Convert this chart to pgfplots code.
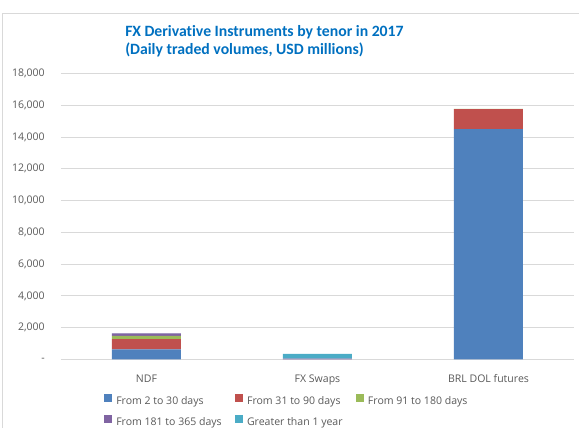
\documentclass[border=0pt]{standalone}
\usepackage{pgfplots}
\pgfplotsset{compat=1.18}
\usepackage{fontspec}
\setmainfont{Carlito}[Ligatures=NoCommon]
\newfontfamily\labelfont{Open Sans}

\definecolor{sBlue}{HTML}{4F81BD}
\definecolor{sRed}{HTML}{C0504D}
\definecolor{sGreen}{HTML}{9BBB59}
\definecolor{sPurple}{HTML}{8064A2}
\definecolor{sCyan}{HTML}{4BACC6}
\definecolor{titleBlue}{HTML}{0070C0}
\definecolor{gridGray}{HTML}{D9D9D9}
\definecolor{labelGray}{HTML}{595959}

% Daily traded volumes by tenor (USD millions)
% x: 0 = NDF, 1 = FX Swaps, 2 = BRL DOL futures
\pgfplotstableread{
x  d2to30  d31to90  d91to180  d181to365  gt1y
0  630     650      210       150        10
1  0       0        0         60         290
2  14500   1250     30        0          0
}\tenordata

\begin{document}
\begin{tikzpicture}
\useasboundingbox (-45.75pt,-51.375pt) rectangle (388.5pt,269.625pt);
% chart area frame
\begin{scope}
\clip (-45.75pt,-51.375pt) rectangle (388.5pt,269.625pt);
\draw[gridGray, line width=0.75pt] (-43.875pt,-80pt) -- (-43.875pt,259.5pt) -- (420pt,259.5pt);
\end{scope}

\begin{axis}[
  at={(0pt,0pt)}, anchor=south west,
  scale only axis,
  width=384.75pt, height=214.5pt,
  ybar stacked,
  bar width=51.75pt,
  xmin=-0.5, xmax=2.5,
  ymin=0, ymax=18000,
  scaled y ticks=false,
  xtick={0,1,2},
  xticklabels={NDF, FX Swaps, BRL DOL futures},
  ytick={0,2000,...,18000},
  yticklabels={-\hspace{6pt},{2,000},{4,000},{6,000},{8,000},{10,000},{12,000},{14,000},{16,000},{18,000}},
  axis line style={draw=none},
  major tick length=0pt,
  ymajorgrids,
  grid style={gridGray, line width=0.75pt},
  tick label style={font=\labelfont\fontsize{7.9pt}{10pt}\selectfont, text=labelGray},
  yticklabel style={anchor=east, inner sep=0pt, xshift=-12pt},
  xticklabel style={anchor=base, inner sep=0pt, yshift=-17.1pt},
  legend columns=3,
  legend cell align=left,
  legend style={
    at={(0.0838,-0.12)}, anchor=north west,
    draw=none, fill=none, inner sep=0pt,
    font=\labelfont\fontsize{7.9pt}{10pt}\selectfont, text=labelGray,
    row sep=6.8pt,
    nodes={inner sep=0pt},
    /tikz/every even column/.append style={column sep=10pt},
    /tikz/every odd column/.append style={column sep=3pt},
  },
  legend image code/.code={\fill[#1] (0pt,-0.5pt) rectangle (6pt,5.5pt);},
]
\addplot[fill=sBlue, draw=none] table[x=x, y=d2to30] {\tenordata};
\addplot[fill=sRed, draw=none] table[x=x, y=d31to90] {\tenordata};
\addplot[fill=sGreen, draw=none] table[x=x, y=d91to180] {\tenordata};
\addplot[fill=sPurple, draw=none] table[x=x, y=d181to365] {\tenordata};
\addplot[fill=sCyan, draw=none] table[x=x, y=gt1y] {\tenordata};
\legend{From 2 to 30 days, From 31 to 90 days, From 91 to 180 days, From 181 to 365 days, Greater than 1 year}
\end{axis}

% chart title
\node[anchor=base west, inner sep=0pt, text=titleBlue, font=\fontsize{11.8pt}{14pt}\selectfont\bfseries] at (48pt,242.6pt) {FX Derivative Instruments by tenor in 2017};
\node[anchor=base west, inner sep=0pt, text=titleBlue, font=\fontsize{11.8pt}{14pt}\selectfont\bfseries] at (48pt,228.4pt) {(Daily traded volumes, USD millions)};
\end{tikzpicture}
\end{document}
